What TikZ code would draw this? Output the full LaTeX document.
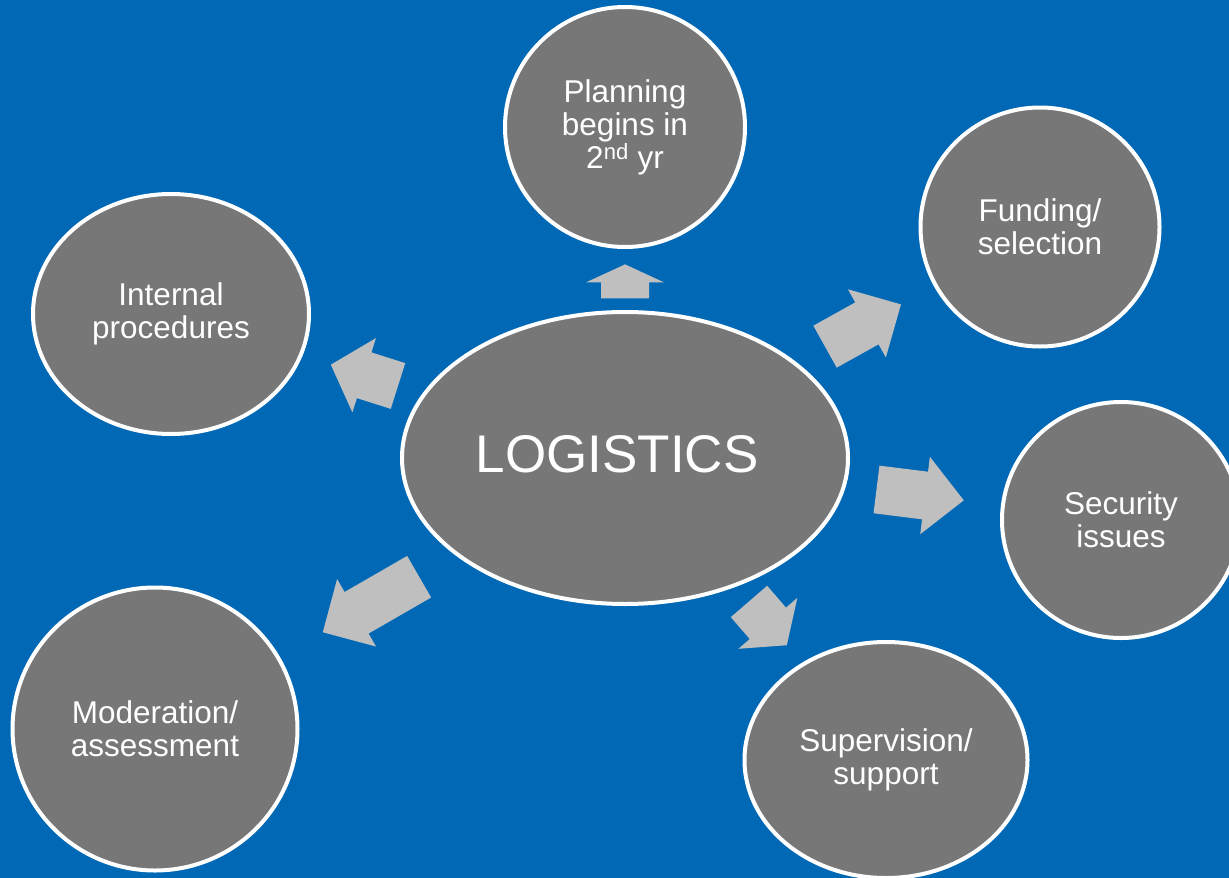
\documentclass[tikz,border=0pt]{standalone}
\usepackage{fontspec}
\setmainfont{Liberation Sans}
\usepackage{tikz}
\usetikzlibrary{calc,shapes.geometric}

\definecolor{bgblue}{HTML}{0068B5}
\definecolor{bubblegray}{HTML}{777777}
\definecolor{arrowgray}{HTML}{BFBFBF}

% fat arrow from logistics towards node #1, between fractions #2 and #3, head length #4
\newcommand{\blockarrow}[4]{%
  \coordinate (#1-tail) at ($(logistics.center)!#2!(#1.center)$);
  \coordinate (#1-tip) at ($(logistics.center)!#3!(#1.center)$);
  \coordinate (#1-base) at ($(#1-tip)!#4pt!(#1-tail)$);
  \fill[arrowgray] ($(#1-tail)!24pt!90:(#1-tip)$) -- ($(#1-base)!24pt!90:(#1-tip)$) -- ($(#1-base)!39pt!90:(#1-tip)$) -- (#1-tip)
    -- ($(#1-base)!39pt!-90:(#1-tip)$) -- ($(#1-base)!24pt!-90:(#1-tip)$) -- ($(#1-tail)!24pt!-90:(#1-tip)$) -- cycle;
}

\begin{document}
\begin{tikzpicture}[x=1pt,y=-1pt,
    bubble/.style={ellipse,draw=white,line width=4pt,fill=bubblegray,text=white,inner sep=0pt,align=center,font=\fontsize{31.5}{33}\selectfont}]
    \fill[bgblue] (0,0) rectangle (1229,878);
    \useasboundingbox (0,0) rectangle (1229,878);
    \clip (0,0) rectangle (1229,878);
    % centre
    \node[bubble,minimum width=446pt,minimum height=292pt,text depth=8pt,font=\fontsize{53}{60}\selectfont] (logistics) at (625,458) {LOGISTICS\hspace*{16pt}};
    % outer bubbles
    \node[bubble,minimum width=240pt,minimum height=240pt] (planning) at (625,127) {Planning\\begins in\\2\textsuperscript{nd} yr};
    \node[bubble,minimum width=239pt,minimum height=239pt] (funding) at (1040,227) {Funding/\\selection};
    \node[bubble,minimum width=238pt,minimum height=236pt] (security) at (1121,520) {Security\\issues};
    \node[bubble,minimum width=283pt,minimum height=236pt] (supervision) at (886,760) {Supervision/\\support};
    \node[bubble,minimum width=285pt,minimum height=283pt] (moderation) at (155,729) {Moderation/\\assessment};
    \node[bubble,minimum width=276pt,minimum height=240pt] (internal) at (171,314) {Internal\\procedures};
    % arrows
    \blockarrow{planning}{0.482}{0.585}{18}
    \blockarrow{funding}{0.482}{0.665}{39}
    \blockarrow{security}{0.507}{0.683}{39}
    \blockarrow{supervision}{0.475}{0.62}{29}
    \blockarrow{moderation}{0.438}{0.643}{39}
    \blockarrow{internal}{0.5}{0.648}{35}
\end{tikzpicture}
\end{document}
